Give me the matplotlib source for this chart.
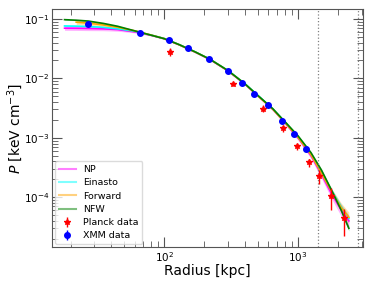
import numpy as np
import matplotlib
matplotlib.use('Agg')
import matplotlib.pyplot as plt
from matplotlib.lines import Line2D

# model curves (radius in kpc, pressure in keV cm^-3)
r_mod = [18, 22, 27, 35, 45, 60, 80, 100, 130, 170, 220, 300, 400, 500,
         650, 800, 1000, 1250, 1500, 1800, 2100, 2400]
p_np = [0.0697, 0.0695, 0.069, 0.068, 0.066, 0.0605, 0.053, 0.0465, 0.0365,
        0.0277, 0.0207, 0.0133, 0.0080, 0.0051, 0.0030, 0.00178, 0.00100,
        0.00050, 0.000240, 0.000110, 6.2e-5, 4.0e-5]
w_np = [0.08, 0.08, 0.08, 0.07, 0.06, 0.04, 0.03, 0.03, 0.03, 0.03, 0.03, 0.03,
        0.03, 0.04, 0.05, 0.06, 0.08, 0.10, 0.14, 0.18, 0.22, 0.25]
p_ein = [0.076, 0.0755, 0.0745, 0.072, 0.068, 0.062, 0.0535, 0.0468, 0.0368,
         0.0280, 0.0210, 0.0135, 0.0082, 0.0052, 0.00305, 0.00183, 0.00104,
         0.00053, 0.000258, 0.000125, 7.0e-5, 4.4e-5]
w_ein = [0.03, 0.03, 0.03, 0.03, 0.03, 0.03, 0.02, 0.02, 0.02, 0.02, 0.02, 0.02,
         0.02, 0.02, 0.03, 0.03, 0.04, 0.05, 0.06, 0.08, 0.10, 0.12]
r_fwd = r_mod[1:]
p_fwd = [0.088, 0.085, 0.079, 0.072, 0.063, 0.0535, 0.0466, 0.0366,
         0.0278, 0.0209, 0.0134, 0.0081, 0.0051, 0.0030, 0.00180, 0.00102,
         0.00052, 0.000252, 0.000120, 6.8e-5, 4.6e-5]
w_fwd = [0.09, 0.09, 0.08, 0.07, 0.05, 0.03, 0.03, 0.03, 0.03, 0.03, 0.03,
         0.03, 0.03, 0.04, 0.05, 0.06, 0.08, 0.10, 0.14, 0.18, 0.22]
p_nfw = [0.097, 0.095, 0.092, 0.084, 0.075, 0.063, 0.0531, 0.0465, 0.0367,
         0.0279, 0.0209, 0.0135, 0.00813, 0.00518, 0.00306, 0.00186, 0.00108,
         0.000563, 0.000284, 0.000125, 6.1e-5, 3.0e-5]
w_nfw = [0.02, 0.02, 0.02, 0.02, 0.02, 0.02, 0.02, 0.02, 0.02, 0.02, 0.02, 0.02,
         0.02, 0.02, 0.02, 0.03, 0.03, 0.04, 0.05, 0.06, 0.08, 0.10]

# Planck points
r_pl = [110, 329, 552, 772, 989, 1216, 1437, 1767, 2200]
p_pl = [0.0282, 0.00806, 0.0031, 0.00147, 0.00073, 0.000398, 0.000228, 0.000105, 4.5e-5]
lo_pl = [0.0040, 0.0006, 0.0004, 0.00020, 0.00011, 0.00007, 0.00006, 0.000044, 2.3e-5]
hi_pl = [0.0040, 0.0006, 0.0004, 0.00011, 0.00006, 0.00005, 0.00006, 0.000036, 1.9e-5]

# XMM points
r_x = [26.9, 65.7, 107.8, 149.6, 215, 298.5, 384.6, 467.7, 595.7, 762.7, 933, 1142]
p_x = [0.0835, 0.0589, 0.0443, 0.0325, 0.0215, 0.01334, 0.00849, 0.00547,
       0.00353, 0.0019, 0.00115, 0.00065]
e_x = [0.003, 0.002, 0.0015, 0.001, 0.0007, 0.0004, 0.0003, 0.0002, 0.00012,
       0.00008, 0.00005, 0.00004]

r_lines = [1413, 2820]

fig = plt.figure(figsize=(3.74, 2.88), dpi=100)
ax = fig.add_axes([0.139, 0.142, 0.831, 0.827])

models = [
    ('NP', r_mod, p_np, w_np, 'magenta'),
    ('Einasto', r_mod, p_ein, w_ein, 'cyan'),
    ('Forward', r_fwd, p_fwd, w_fwd, 'orange'),
    ('NFW', r_mod, p_nfw, w_nfw, 'green'),
]
handles = []
for name, rr, pp, ww, col in models:
    pp = np.array(pp)
    ww = np.array(ww)
    ax.fill_between(rr, pp * (1 - ww), pp * (1 + ww), color=col, alpha=0.3, lw=0)
    ax.plot(rr, pp, color=col, lw=1.2)
    handles.append(Line2D([], [], color=col, lw=1.5, alpha=0.5, label=name))

for xv in r_lines:
    ax.axvline(xv, color='gray', ls=':', lw=0.9)

h_pl = ax.errorbar(r_pl, p_pl, yerr=[lo_pl, hi_pl], fmt='*', color='red',
                   ms=4, elinewidth=1, capsize=0, label='Planck data')
h_x = ax.errorbar(r_x, p_x, yerr=e_x, fmt='o', color='blue', ms=4,
                  elinewidth=1, capsize=0, label='XMM data', zorder=5)
handles += [h_pl, h_x]

ax.set_xscale('log')
ax.set_yscale('log')
ax.set_xlim(14.5, 3050)
ax.set_ylim(1.45e-5, 0.147)
ax.set_xlabel('Radius [kpc]', fontsize=10, labelpad=0)
ax.set_ylabel(r'$P$ [keV cm$^{-3}$]', fontsize=10)
ax.yaxis.set_label_coords(-0.087, 0.5)
ax.tick_params(which='both', direction='in', top=True, right=True,
               labelsize=7.5, color='#555555', pad=2)
ax.tick_params(which='major', length=7, width=0.8)
ax.tick_params(which='minor', length=4, width=0.6)
for s in ax.spines.values():
    s.set_color('#555555')

ax.legend(handles=handles, loc='lower left', fontsize=6.8, frameon=True,
          edgecolor='lightgray', borderaxespad=0.3, handlelength=1.8,
          labelspacing=0.45)

fig.savefig('out.png', dpi=100)
